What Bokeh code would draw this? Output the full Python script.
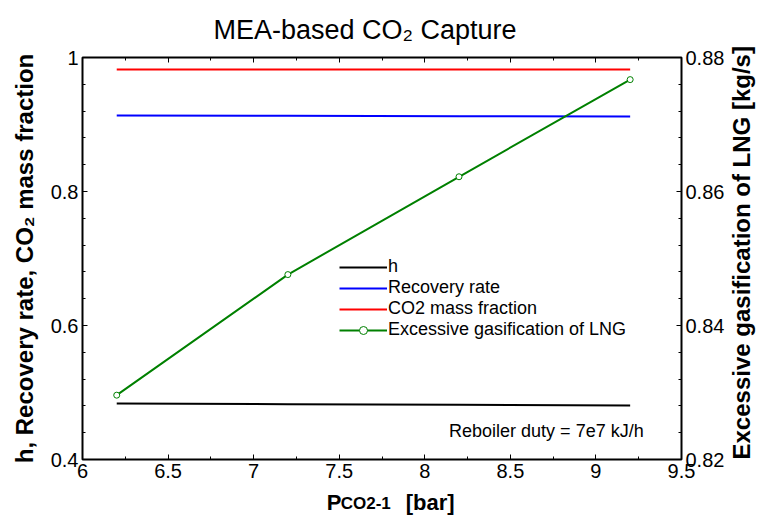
import math
from bokeh.plotting import figure
from bokeh.models import Range1d, LinearAxis, Label, Legend, LegendItem, FixedTicker, Title
from bokeh.embed import file_html
from bokeh.resources import INLINE

# data
pressure = [6.2, 7.2, 8.2, 9.2]
eta = [0.4836, 0.4826, 0.4816, 0.4806]
recovery = [0.9134, 0.9130, 0.9125, 0.9120]
co2_frac = [0.982, 0.982, 0.982, 0.982]
lng = [0.8296, 0.8476, 0.8622, 0.8767]

x_ticks = [6, 6.5, 7, 7.5, 8, 8.5, 9, 9.5]
y_ticks = [0.4, 0.6, 0.8, 1.0]
y2_ticks = [0.82, 0.84, 0.86, 0.88]

FONT = "Liberation Sans"

p = figure(width=771, height=518, output_backend="svg", toolbar_location=None,
           x_range=Range1d(6, 9.5), y_range=Range1d(0.4, 1.0),
           min_border_left=82, min_border_right=85, min_border_top=57, min_border_bottom=59)
p.extra_y_ranges = {"lng": Range1d(0.82, 0.88)}
p.grid.visible = False
p.outline_line_color = "black"
p.outline_line_width = 2
p.background_fill_color = "white"
p.border_fill_color = "white"

def style_axis(ax, labels=True):
    ax.major_tick_in = 5
    ax.major_tick_out = 0
    ax.minor_tick_in = 3
    ax.minor_tick_out = 0
    ax.axis_line_color = "black"
    ax.axis_line_width = 1
    ax.major_tick_line_color = "black"
    ax.minor_tick_line_color = "black"
    ax.major_label_text_font = FONT
    ax.major_label_text_font_size = "20px"
    ax.major_label_text_color = "black"
    ax.major_label_standoff = 4
    if not labels:
        ax.major_label_text_alpha = 0
        ax.major_label_text_font_size = "1px"
        ax.major_label_standoff = 0

def text_axis(ax, size, standoff):
    # an axis used only to carry a bold text label
    ax.axis_line_color = None
    ax.major_tick_line_color = None
    ax.minor_tick_line_color = None
    ax.major_tick_in = 0
    ax.major_tick_out = 0
    ax.minor_tick_in = 0
    ax.minor_tick_out = 0
    ax.major_label_text_font = FONT
    ax.major_label_text_font_style = "bold"
    ax.major_label_text_font_size = size
    ax.major_label_text_color = "black"
    ax.major_label_standoff = standoff

xa = p.xaxis[0]
xa.ticker = FixedTicker(ticks=x_ticks, minor_ticks=[6 + 0.25 * i for i in range(15)])
style_axis(xa)
xa.major_label_overrides = {6: "6", 6.5: "6.5", 7: "7", 7.5: "7.5", 8: "8", 8.5: "8.5", 9: "9", 9.5: "9.5"}

ya = p.yaxis[0]
ya.ticker = FixedTicker(ticks=y_ticks, minor_ticks=[0.4 + 0.04 * i for i in range(16)])
style_axis(ya)
ya.major_label_overrides = {0.4: "0.4", 0.6: "0.6", 0.8: "0.8", 1.0: "1"}
ya.axis_label = "h, Recovery rate, CO\u2082 mass fraction"
ya.axis_label_text_font = FONT
ya.axis_label_text_font_style = "bold"
ya.axis_label_text_font_size = "24px"
ya.axis_label_text_color = "black"
ya.axis_label_standoff = 10

ya2 = LinearAxis(y_range_name="lng")
ya2.ticker = FixedTicker(ticks=y2_ticks, minor_ticks=[0.82 + 0.004 * i for i in range(16)])
style_axis(ya2)
ya2.major_label_overrides = {0.82: "0.82", 0.84: "0.84", 0.86: "0.86", 0.88: "0.88"}
p.add_layout(ya2, "right")

# right-hand axis title, reading bottom to top
ya3 = LinearAxis(y_range_name="lng")
ya3.ticker = FixedTicker(ticks=[0.82])
text_axis(ya3, "24px", 14)
ya3.major_label_overrides = {0.82: "Excessive gasification of LNG [kg/s]"}
ya3.major_label_orientation = math.pi / 2
p.add_layout(ya3, "right")

xa_top = LinearAxis()
xa_top.ticker = FixedTicker(ticks=x_ticks, minor_ticks=[6 + 0.25 * i for i in range(15)])
style_axis(xa_top, labels=False)
p.add_layout(xa_top, "above")

# x axis title: P with subscript CO2-1 and unit
xl_sub = LinearAxis()
xl_sub.ticker = FixedTicker(ticks=[7.655])
text_axis(xl_sub, "17px", 13)
xl_sub.major_label_overrides = {7.655: "CO2-1"}
p.add_layout(xl_sub, "below")

xl_main = LinearAxis()
xl_main.ticker = FixedTicker(ticks=[7.47, 8.031])
text_axis(xl_main, "22px", -26)
xl_main.major_label_overrides = {7.47: "P", 8.031: "[bar]"}
p.add_layout(xl_main, "below")

p.title = Title(text="MEA-based CO\u2082 Capture", align="left", offset=131,
                text_font=FONT, text_font_size="27px", text_font_style="normal",
                text_color="black", standoff=25)

r_eta = p.line(pressure, eta, line_color="black", line_width=2)
r_rec = p.line(pressure, recovery, line_color="blue", line_width=2)
r_co2 = p.line(pressure, co2_frac, line_color="red", line_width=2)
r_lng = p.line(pressure, lng, line_color="green", line_width=2, y_range_name="lng")
r_lng_m = p.scatter(pressure, lng, marker="circle", size=6, line_color="green",
                    fill_color="white", line_width=1, y_range_name="lng")

legend = Legend(items=[
    LegendItem(label="h", renderers=[r_eta]),
    LegendItem(label="Recovery rate", renderers=[r_rec]),
    LegendItem(label="CO2 mass fraction", renderers=[r_co2]),
    LegendItem(label="Excessive gasification of LNG", renderers=[r_lng, r_lng_m]),
], location=(257, 119))
legend.border_line_color = None
legend.background_fill_alpha = 0
legend.label_text_font = FONT
legend.label_text_font_size = "18px"
legend.label_text_color = "black"
legend.label_height = 20
legend.glyph_width = 48
legend.glyph_height = 20
legend.spacing = 0
legend.label_standoff = 1
legend.padding = 0
legend.margin = 0
p.add_layout(legend)

p.add_layout(Label(x=9.279, y=0.4283, text="Reboiler duty = 7e7 kJ/h", text_align="right",
                   text_font=FONT, text_font_size="18px", text_color="black"))

open("out.html", "w").write(file_html(p, INLINE))
